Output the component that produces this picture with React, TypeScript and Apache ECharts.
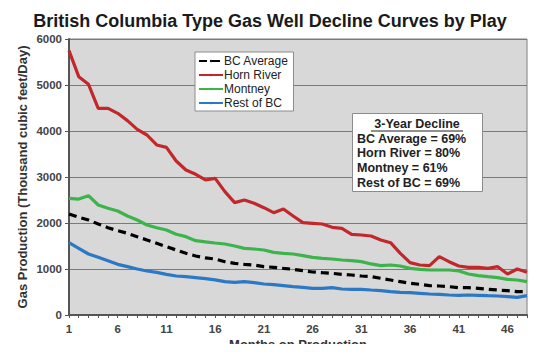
import React, { useEffect, useRef } from "react";
import * as echarts from "echarts";

const months: string[] = Array.from({ length: 48 }, (_, i) => String(i + 1));

const bcAverage: number[] = [
  2196, 2123, 2065, 1978, 1898, 1833, 1775, 1703, 1630, 1558,
  1485, 1413, 1341, 1283, 1240, 1217, 1159, 1123, 1101, 1087,
  1051, 1036, 1014, 993, 964, 935, 920, 906, 884, 870,
  848, 833, 797, 761, 725, 688, 667, 638, 630, 616,
  594, 594, 580, 558, 543, 529, 507, 507,
];

const hornRiver: number[] = [
  5746, 5181, 5014, 4493, 4493, 4384, 4225, 4036, 3913, 3696,
  3645, 3348, 3152, 3058, 2935, 2971, 2681, 2442, 2500, 2428,
  2333, 2225, 2304, 2152, 2007, 1993, 1978, 1906, 1884, 1754,
  1739, 1717, 1630, 1572, 1341, 1138, 1087, 1072, 1268, 1159,
  1065, 1036, 1036, 1014, 1051, 891, 1000, 928,
];

const montney: number[] = [
  2536, 2520, 2594, 2391, 2319, 2260, 2152, 2065, 1957, 1898,
  1848, 1754, 1703, 1616, 1590, 1565, 1543, 1500, 1449, 1435,
  1413, 1362, 1341, 1326, 1290, 1254, 1232, 1217, 1196, 1181,
  1160, 1110, 1072, 1087, 1065, 1014, 993, 978, 978, 978,
  957, 891, 855, 833, 812, 775, 761, 725,
];

const restOfBC: number[] = [
  1572, 1449, 1326, 1254, 1181, 1101, 1051, 1000, 957, 928,
  884, 848, 833, 812, 790, 765, 725, 710, 725, 703,
  674, 659, 638, 616, 601, 580, 580, 594, 565, 558,
  558, 543, 529, 507, 492, 485, 471, 456, 449, 435,
  428, 435, 428, 420, 413, 399, 384, 420,
];

const declineLines: string[] = [
  "BC Average = 69%",
  "Horn River = 80%",
  "Montney = 61%",
  "Rest of BC = 69%",
];

const FONT = "Liberation Sans, Arial, sans-serif";

export default function App() {
  const ref = useRef<HTMLDivElement>(null);
  useEffect(() => {
    if (!ref.current) return;
    const chart = echarts.init(ref.current, undefined, { renderer: "svg" });
    const lineSeries = (name: string, data: number[], color: string, dashed = false) => ({
      name,
      type: "line",
      data,
      symbol: "none",
      smooth: false,
      z: dashed ? 3 : 2,
      lineStyle: { color, width: 3.2, type: dashed ? [8, 5] : "solid" },
      itemStyle: { color },
    });
    chart.setOption({
      animation: false,
      backgroundColor: "#ffffff",
      textStyle: { fontFamily: FONT },
      title: {
        text: "British Columbia Type Gas Well Decline Curves by Play",
        left: "center",
        top: 7,
        textStyle: { fontFamily: FONT, fontSize: 18, fontWeight: "bold", color: "#1a1a1a" },
      },
      legend: {
        orient: "vertical",
        left: 195,
        top: 52,
        itemWidth: 24,
        itemHeight: 3,
        itemGap: 2,
        padding: [3, 5, 2, 3],
        backgroundColor: "#ffffff",
        borderColor: "#8c8c8c",
        borderWidth: 1,
        textStyle: { fontFamily: FONT, fontSize: 12, color: "#222", padding: [0, 0, 0, -4] },
        data: ["BC Average", "Horn River", "Montney", "Rest of BC"],
      },
      grid: {
        left: 69,
        right: 13,
        top: 39,
        bottom: 37,
        outerBoundsMode: "none",
        containLabel: false,
        show: true,
        backgroundColor: "#d8d8d8",
        borderColor: "#7f7f7f",
        borderWidth: 1,
      },
      xAxis: {
        type: "category",
        data: months,
        boundaryGap: false,
        name: "Months on Production",
        nameLocation: "middle",
        nameGap: 23,
        nameMoveOverlap: false,
        nameTextStyle: { fontFamily: FONT, fontSize: 13, fontWeight: "bold", color: "#333" },
        axisLine: { lineStyle: { color: "#555", width: 2 } },
        axisTick: { show: true, interval: 0, length: 3, lineStyle: { color: "#555" } },
        axisLabel: { interval: 4, fontFamily: FONT, fontSize: 11.5, fontWeight: "bold", color: "#444", margin: 8 },
        splitLine: { show: false },
      },
      yAxis: {
        type: "value",
        min: 0,
        max: 6000,
        interval: 1000,
        name: "Gas Production (Thousand cubic feet/Day)",
        nameLocation: "middle",
        nameGap: 40,
        nameMoveOverlap: false,
        nameTextStyle: { fontFamily: FONT, fontSize: 13, fontWeight: "bold", color: "#333" },
        axisLine: { show: true, lineStyle: { color: "#555", width: 2 } },
        axisTick: { show: true, length: 4, lineStyle: { color: "#555" } },
        axisLabel: {
          fontFamily: FONT,
          fontSize: 11.5,
          fontWeight: "bold",
          color: "#444",
          margin: 7,
          formatter: (v: number) => String(v),
        },
        splitLine: { show: true, lineStyle: { color: "#7a7a7a", width: 1 } },
      },
      series: [
        lineSeries("BC Average", bcAverage, "#000000", true),
        lineSeries("Horn River", hornRiver, "#c0282b"),
        lineSeries("Montney", montney, "#3cb44b"),
        lineSeries("Rest of BC", restOfBC, "#2b78c4"),
      ],
      graphic: [
        {
          type: "rect",
          left: 352,
          top: 113,
          shape: { width: 130, height: 78 },
          style: { fill: "#ffffff", stroke: "#8c8c8c", lineWidth: 1 },
          z: 10,
        },
        {
          type: "text",
          x: 417,
          y: 117,
          style: {
            text: "3-Year Decline",
            fontFamily: FONT,
            fontSize: 12.5,
            fontWeight: "bold",
            fill: "#222",
            align: "center",
          },
          z: 11,
        },
        {
          type: "line",
          shape: { x1: 371, y1: 131, x2: 463, y2: 131 },
          style: { stroke: "#222", lineWidth: 1 },
          z: 11,
        },
        ...declineLines.map((t, i) => ({
          type: "text",
          x: 357,
          y: 132 + i * 14.8,
          style: {
            text: t,
            fontFamily: FONT,
            fontSize: 12.5,
            fontWeight: "bold",
            fill: "#222",
          },
          z: 11,
        })),
      ],
    });
    return () => chart.dispose();
  }, []);
  return <div ref={ref} style={{ width: 540, height: 352, margin: -8 }} />;
}
